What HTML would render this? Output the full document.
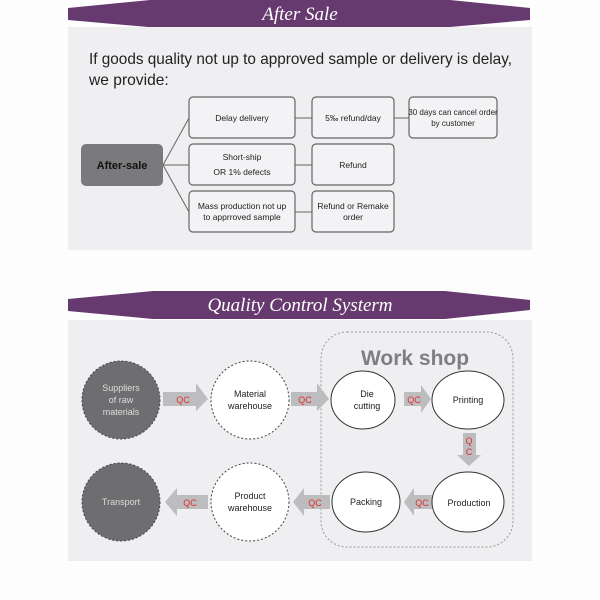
<!DOCTYPE html>
<html><head><meta charset="utf-8"><style>
body{margin:0;background:#fdfdfd;}
svg{display:block}
text{font-family:"Liberation Sans",sans-serif;}
text.ser{font-family:"Liberation Serif",serif;font-style:italic;}
</style></head><body>
<svg width="600" height="600" viewBox="0 0 600 600" xmlns="http://www.w3.org/2000/svg">
<rect x="68" y="27" width="464" height="223" fill="#efeef0"/>
<rect x="68" y="320" width="464" height="241" fill="#efeef0"/>
<polygon points="68,8 150,0 450,0 530,8 530,20 450,27 148,27 68,20" fill="#663a6e"/>
<text class="ser" x="300" y="20" text-anchor="middle" font-size="19" fill="#fff">After Sale</text>
<polygon points="68,299 153,291 445,291 530,300 530,310 445,319 153,319 68,311" fill="#663a6e"/>
<text class="ser" x="300" y="311" text-anchor="middle" font-size="19" fill="#fff">Quality Control Systerm</text>
<text x="89" y="64" font-size="15.6" fill="#222" textLength="423" lengthAdjust="spacingAndGlyphs">If goods quality not up to approved sample or delivery is delay,</text>
<text x="89" y="85" font-size="15.6" fill="#222">we provide:</text>
<g stroke="#666" stroke-width="1" fill="none">
<line x1="163" y1="165" x2="189" y2="118"/><line x1="163" y1="165" x2="189" y2="165"/><line x1="163" y1="165" x2="189" y2="212"/>
<line x1="295" y1="118" x2="312" y2="118"/><line x1="394" y1="118" x2="409" y2="118"/>
<line x1="295" y1="165" x2="312" y2="165"/><line x1="295" y1="212" x2="312" y2="212"/>
</g>
<rect x="81" y="144" width="82" height="42" rx="5" fill="#7a797b"/>
<text x="122" y="169" text-anchor="middle" font-size="11" font-weight="bold" fill="#111">After-sale</text>
<g fill="#f3f2f4" stroke="#666" stroke-width="1.2">
<rect x="189" y="97" width="106" height="41" rx="4"/><rect x="189" y="144" width="106" height="41" rx="4"/><rect x="189" y="191" width="106" height="41" rx="4"/>
<rect x="312" y="97" width="82" height="41" rx="4"/><rect x="312" y="144" width="82" height="41" rx="4"/><rect x="312" y="191" width="82" height="41" rx="4"/>
<rect x="409" y="97" width="88" height="41" rx="4"/>
</g>
<g font-size="8.5" fill="#222" text-anchor="middle">
<text x="242" y="121">Delay delivery</text>
<text x="242" y="160">Short-ship</text><text x="242" y="175">OR 1% defects</text>
<text x="242" y="209">Mass production not up</text><text x="242" y="220">to apprroved sample</text>
<text x="353" y="121">5‰ refund/day</text>
<text x="353" y="168">Refund</text>
<text x="353" y="209">Refund or Remake</text><text x="353" y="220">order</text>
<text x="453" y="115" font-size="8">30 days can cancel order</text><text x="453" y="126" font-size="8">by customer</text>
</g>
<rect x="321" y="332" width="192" height="215" rx="26" fill="none" stroke="#999" stroke-dasharray="2,2"/>
<text x="415" y="365" text-anchor="middle" font-size="21" font-weight="bold" fill="#7f7e80">Work shop</text>
<g fill="#bdbcbe">
<polygon points="163,392 196,392 196,383 208,399 196,411 196,406 163,406"/>
<polygon points="291,392 317,392 317,383 329,399 317,411 317,406 291,406"/>
<polygon points="404,392 421,392 421,385 431,399 421,413 421,406 404,406"/>
<polygon points="463,433 476,433 476,455 481,455 469,466 457,455 463,455"/>
<polygon points="432,495 414,495 414,488 404,502 414,516 414,509 432,509"/>
<polygon points="330,495 304,495 304,488 293,502 304,516 304,509 330,509"/>
<polygon points="208,495 177,495 177,488 165,502 177,516 177,509 208,509"/>
</g>
<g font-size="9" fill="#e03030" text-anchor="middle">
<text x="183" y="403">QC</text><text x="305" y="403">QC</text><text x="414" y="403">QC</text>
<text x="469" y="444">Q</text><text x="469" y="455">C</text>
<text x="422" y="506">QC</text><text x="315" y="506">QC</text><text x="190" y="506">QC</text>
</g>
<g stroke="#444" stroke-dasharray="2,2" stroke-width="1">
<circle cx="121" cy="400" r="39" fill="#6e6d70"/>
<circle cx="121" cy="502" r="39" fill="#6e6d70"/>
<circle cx="250" cy="400" r="39" fill="#fff"/>
<circle cx="250" cy="502" r="39" fill="#fff"/>
</g>
<g stroke="#333" stroke-width="1" fill="#fff">
<ellipse cx="363" cy="400" rx="32" ry="29"/>
<ellipse cx="468" cy="400" rx="36" ry="29"/>
<ellipse cx="468" cy="502" rx="36" ry="30"/>
<ellipse cx="366" cy="502" rx="34" ry="30"/>
</g>
<g font-size="9" text-anchor="middle" fill="#222">
<text x="121" y="391" fill="#ddd">Suppliers</text><text x="121" y="403" fill="#ddd">of raw</text><text x="121" y="415" fill="#ddd">materials</text>
<text x="121" y="505" fill="#ddd">Transport</text>
<text x="250" y="397">Material</text><text x="250" y="409">warehouse</text>
<text x="250" y="499">Product</text><text x="250" y="511">warehouse</text>
<text x="367" y="397">Die</text><text x="367" y="409">cutting</text>
<text x="468" y="403">Printing</text>
<text x="469" y="506">Production</text>
<text x="366" y="505">Packing</text>
</g>
</svg>
</body></html>
